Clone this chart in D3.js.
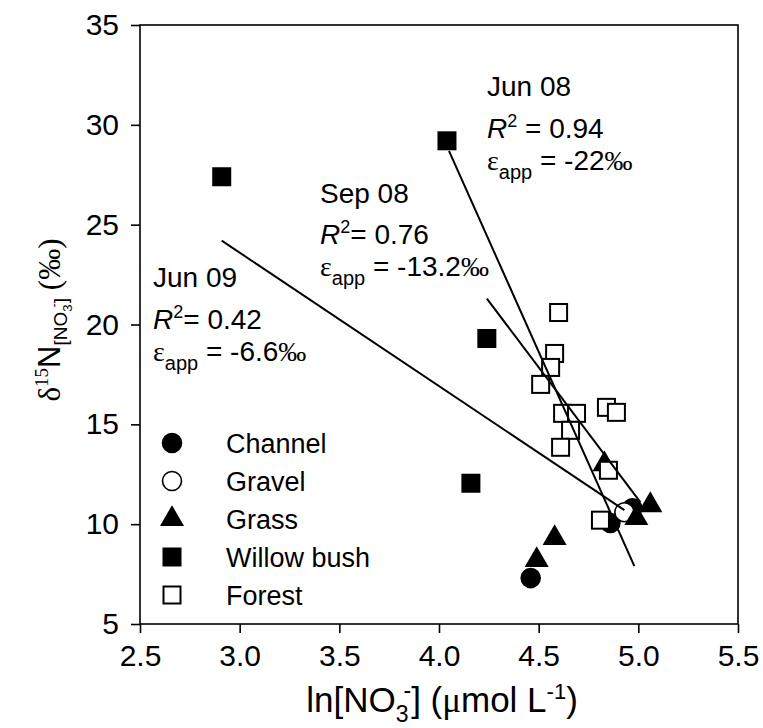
<!DOCTYPE html>
<html>
<head>
  <script src="https://d3js.org/d3.v7.min.js"></script>
  <style>
  body { margin: 0; background: #fff; }
  svg { display: block; }
  text { font-family: Arial, 'Liberation Sans', sans-serif; fill: #000; }
  .serif { font-family: 'Times New Roman', 'Liberation Serif', serif; }
  </style>
</head>
<body>
<svg id="chart"></svg>
<script>
  // data: [ln NO3, d15N]
  var channel = [[4.46, 7.3], [4.86, 10.06], [4.97, 10.8]];
  var gravel = [[4.93, 10.6]];
  var grass = [[4.49, 8.2], [4.58, 9.3], [4.83, 13.0], [4.99, 10.3], [5.06, 10.95]];
  var willow = [[2.91, 27.4], [4.04, 29.2], [4.24, 19.3], [4.16, 12.05]];
  var forest = [[4.60, 20.6], [4.58, 18.55], [4.56, 17.85], [4.51, 17.0], [4.62, 15.55],
                [4.69, 15.55], [4.66, 14.7], [4.61, 13.85], [4.84, 15.85], [4.89, 15.6],
                [4.85, 12.7], [4.81, 10.2]];

  // regression lines, end points
  var fitJun08 = [[4.05, 28.7], [4.98, 7.9]];
  var fitSep08 = [[4.24, 21.3], [5.01, 11.1]];
  var fitJun09 = [[2.91, 24.2], [4.93, 10.7]];

  var xTicks = [2.5, 3.0, 3.5, 4.0, 4.5, 5.0, 5.5];
  var yTicks = [5, 10, 15, 20, 25, 30, 35];

  var legendNames = ["Channel", "Gravel", "Grass", "Willow bush", "Forest"];

  var W = 763, H = 728;
  var svg = d3.select("#chart").attr("width", W).attr("height", H);

  var x = d3.scaleLinear().domain([2.5, 5.5]).range([140, 738]);
  var y = d3.scaleLinear().domain([5, 35]).range([624, 25]);

  // frame
  svg.append("rect")
    .attr("x", x(2.5)).attr("y", y(35))
    .attr("width", x(5.5) - x(2.5)).attr("height", y(5) - y(35))
    .attr("fill", "none").attr("stroke", "#000").attr("stroke-width", 1.6);

  var xAxis = svg.append("g")
    .attr("transform", "translate(0," + y(5) + ")")
    .call(d3.axisBottom(x).tickValues(xTicks).tickSize(9).tickPadding(12).tickFormat(d3.format(".1f")));
  var yAxis = svg.append("g")
    .attr("transform", "translate(" + x(2.5) + ",0)")
    .call(d3.axisLeft(y).tickValues(yTicks).tickSize(9).tickPadding(12));
  [xAxis, yAxis].forEach(function(a) {
    a.select(".domain").remove();
    a.selectAll("line").attr("stroke", "#000").attr("stroke-width", 1.6);
    a.selectAll("text").style("font-size", "30px").attr("fill", "#000")
      .style("font-family", "Arial, 'Liberation Sans', sans-serif");
  });

  // symbols
  var sq = 17, cr = 9.5, tri = 250;
  function drawSym(g, kind, cx, cy) {
    if (kind === 0 || kind === 1) {
      g.append("circle").attr("cx", cx).attr("cy", cy).attr("r", cr)
        .attr("fill", kind === 0 ? "#000" : "#fff").attr("stroke", "#000").attr("stroke-width", 1.6);
    } else if (kind === 2) {
      g.append("path").attr("d", d3.symbol(d3.symbolTriangle, tri)())
        .attr("transform", "translate(" + cx + "," + cy + ")").attr("fill", "#000");
    } else {
      g.append("rect").attr("x", cx - sq / 2).attr("y", cy - sq / 2)
        .attr("width", sq).attr("height", sq)
        .attr("fill", kind === 3 ? "#000" : "#fff").attr("stroke", "#000").attr("stroke-width", 2);
    }
  }

  var pts = svg.append("g");
  [channel, gravel, grass, willow, forest].forEach(function(series, k) {
    series.forEach(function(d) { drawSym(pts, k, x(d[0]), y(d[1])); });
  });

  var line = d3.line().x(function(d) { return x(d[0]); }).y(function(d) { return y(d[1]); });
  [fitJun08, fitSep08, fitJun09].forEach(function(f) {
    svg.append("path").attr("d", line(f)).attr("fill", "none")
      .attr("stroke", "#000").attr("stroke-width", 2);
  });

  // legend
  var leg = svg.append("g");
  legendNames.forEach(function(n, i) {
    var cy = 443 + i * 38;
    drawSym(leg, i, 172, cy);
    leg.append("text").attr("x", 226).attr("y", cy + 10).style("font-size", "27px").text(n);
  });

  // annotations
  function annot(x0, ys, title, r2, eps, eqSpace) {
    var g = svg.append("g").style("font-size", "28px");
    g.append("text").attr("x", x0).attr("y", ys[0]).text(title);
    var t = g.append("text").attr("x", x0).attr("y", ys[1]);
    t.append("tspan").style("font-style", "italic").text("R");
    t.append("tspan").attr("dy", -11).style("font-size", "18px").text("2");
    t.append("tspan").attr("dy", 11).text((eqSpace ? " = " : "= ") + r2);
    var e = g.append("text").attr("x", x0).attr("y", ys[2]);
    e.append("tspan").attr("class", "serif").text("\u03b5");
    e.append("tspan").attr("dy", 9).style("font-size", "20px").text("app");
    e.append("tspan").attr("dy", -9).text(" = " + eps);
    e.append("tspan").attr("class", "serif").text("\u2030");
  }
  annot(487, [96, 138, 170], "Jun 08", "0.94", "-22", true);
  annot(320, [203, 244, 276], "Sep 08", "0.76", "-13.2", false);
  annot(153, [287, 329, 361], "Jun 09", "0.42", "-6.6", false);

  // x axis title
  var xt = svg.append("text").attr("x", (x(2.5) + x(5.5)) / 2 + 3).attr("y", 712)
    .attr("text-anchor", "middle").style("font-size", "35px");
  xt.append("tspan").text("ln[NO");
  xt.append("tspan").attr("dy", 10).style("font-size", "23px").text("3");
  xt.append("tspan").attr("dy", -24).attr("dx", -5).style("font-size", "23px").text("-");
  xt.append("tspan").attr("dy", 14).text("] (");
  xt.append("tspan").attr("class", "serif").text("\u03bc");
  xt.append("tspan").text("mol L");
  xt.append("tspan").attr("dy", -13).style("font-size", "22px").text("-1");
  xt.append("tspan").attr("dy", 13).text(")");

  // y axis title
  var yt = svg.append("text").attr("transform", "translate(60,320) rotate(-90)")
    .attr("text-anchor", "middle").style("font-size", "31px");
  yt.append("tspan").attr("class", "serif").text("\u03b4");
  yt.append("tspan").attr("class", "serif").attr("dy", -12).style("font-size", "19px").text("15");
  yt.append("tspan").attr("dy", 12).text("N");
  yt.append("tspan").attr("dy", 7).style("font-size", "19px").text("[NO");
  yt.append("tspan").attr("dy", 5).style("font-size", "13px").text("3");
  yt.append("tspan").attr("dy", -14).attr("dx", -3).style("font-size", "13px").text("-");
  yt.append("tspan").attr("dy", 9).style("font-size", "19px").text("]");
  yt.append("tspan").attr("dy", -7).attr("class", "serif").text(" (\u2030)");
</script>
</body>
</html>
